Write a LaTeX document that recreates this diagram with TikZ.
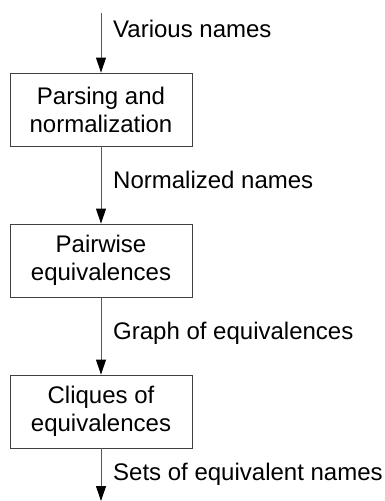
\documentclass[tikz,border=0pt]{standalone}
\usepackage{fontspec}
\setmainfont{Liberation Sans}
\usetikzlibrary{arrows.meta}
\begin{document}
\begin{tikzpicture}[x=1pt,y=-1pt,
  stagebox/.style={draw=black!75,line width=0.9pt,minimum width=182pt,minimum height=73pt,
    align=center,inner sep=0pt,font=\fontsize{24}{28}\selectfont},
  flow/.style={draw=black!65,line width=0.9pt,-{Triangle[length=15pt,width=10pt,fill=black,color=black]}},
  lbl/.style={anchor=base west,inner sep=0pt,font=\fontsize{24}{28}\selectfont}]
\useasboundingbox (0,0) rectangle (385,501);
\coordinate (start) at (101,13);
\coordinate (stop) at (101,501);
\node[stagebox] (parse) at (101,109.5) {Parsing and\\normalization};
\node[stagebox] (pair) at (101,260.5) {Pairwise\\equivalences};
\node[stagebox] (clique) at (101,411.5) {Cliques of\\equivalences};
\draw[flow] (start) -- (parse.north);
\draw[flow] (parse.south) -- (pair.north);
\draw[flow] (pair.south) -- (clique.north);
\draw[flow] (clique.south) -- (stop);
\node[lbl] (l1) at (113,37) {Various names};
\node[lbl] (l2) at (113,188) {Normalized names};
\node[lbl] (l3) at (113,339) {Graph of equivalences};
\node[lbl] (l4) at (113,480) {Sets of equivalent names};
\end{tikzpicture}
\end{document}
